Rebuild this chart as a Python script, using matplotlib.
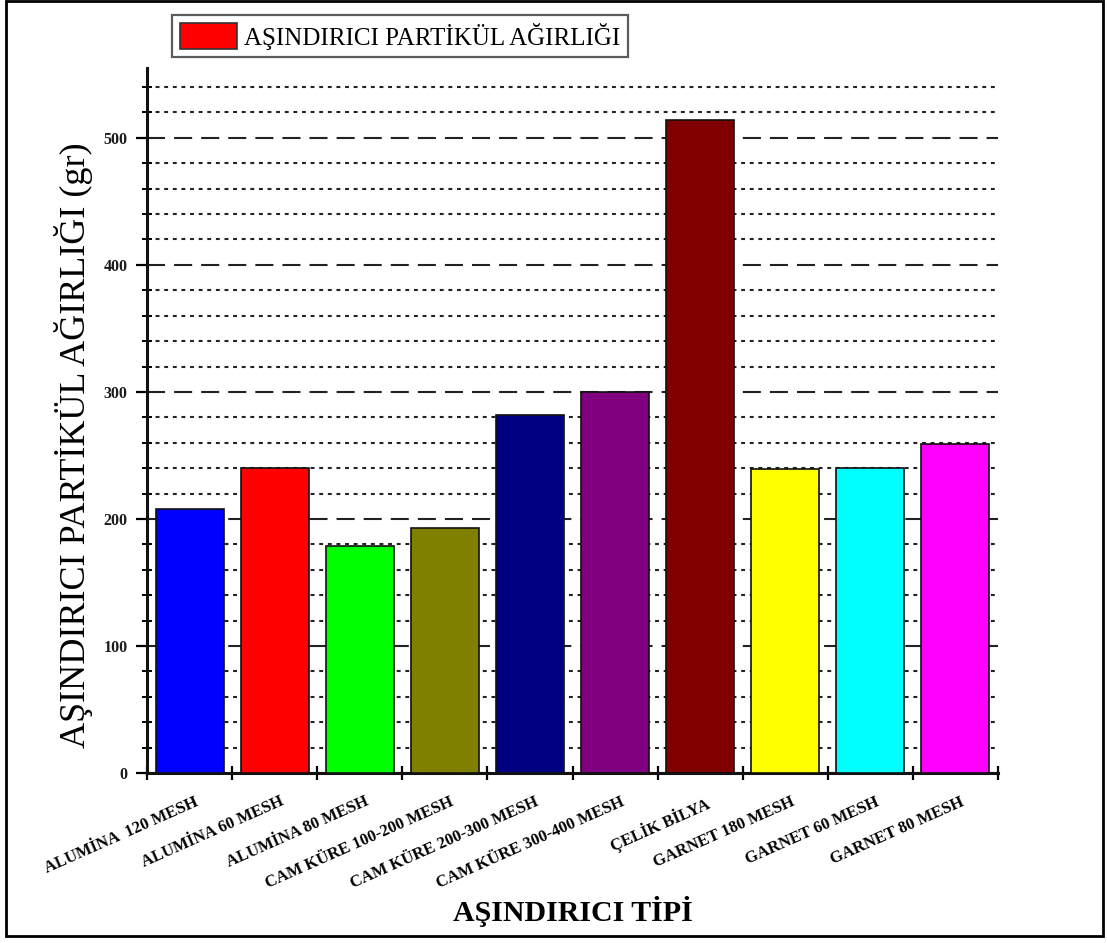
import matplotlib
matplotlib.use("Agg")
import matplotlib.pyplot as plt
import matplotlib.transforms as mtransforms
from matplotlib.patches import Patch, Rectangle
from matplotlib.ticker import MultipleLocator

# Abrasive types and measured particle weights (g)
categories = [
    "ALUMİNA  120 MESH", "ALUMİNA 60 MESH", "ALUMİNA 80 MESH",
    "CAM KÜRE 100-200 MESH", "CAM KÜRE 200-300 MESH", "CAM KÜRE 300-400 MESH",
    "ÇELİK BİLYA", "GARNET 180 MESH", "GARNET 60 MESH", "GARNET 80 MESH",
]
weights = [208, 240, 179, 193, 282, 300, 514, 239.5, 240, 259]
bar_colors = ["#0000FF", "#FF0000", "#00FF00", "#808000", "#000080",
              "#800080", "#800000", "#FFFF00", "#00FFFF", "#FF00FF"]
y_major_ticks = [0, 100, 200, 300, 400, 500]

legend_label = "AŞINDIRICI PARTİKÜL AĞIRLIĞI"
x_title = "AŞINDIRICI TİPİ"
y_title = "AŞINDIRICI PARTİKÜL AĞIRLIĞI (gr)"

plt.rcParams["font.family"] = ["Liberation Serif", "DejaVu Serif"]
plt.rcParams["lines.scale_dashes"] = False

fig = plt.figure(figsize=(11.07, 9.43), dpi=100)
ax = fig.add_axes([147 / 1107, 1 - 773 / 943, (998 - 147) / 1107, (773 - 68) / 943])

x = list(range(len(categories)))
ax.bar(x, weights, width=0.8, color=bar_colors, edgecolor="#111111",
       linewidth=1.2, zorder=3)

ax.set_xlim(-0.5, len(categories) - 0.5)
ax.set_ylim(0, 555)

# y axis: labelled majors every 100, minor ticks every 20
ax.set_yticks(y_major_ticks)
ax.yaxis.set_minor_locator(MultipleLocator(20))
ax.tick_params(axis="y", which="major", direction="out", length=8, width=1.6,
               labelsize=11.5, pad=6, labelcolor="#1a1a1a")
ax.tick_params(axis="y", which="minor", direction="inout", length=7, width=1.4)
for lbl in ax.get_yticklabels():
    lbl.set_fontweight("bold")

# x axis: ticks at category boundaries, labels at category centres
ax.set_xticks([i - 0.5 for i in range(len(categories) + 1)])
ax.set_xticklabels([])
ax.set_xticks(x, minor=True)
ax.set_xticklabels(categories, minor=True, rotation=24, ha="right", va="top",
                   rotation_mode="anchor", fontsize=12, fontweight="bold")
ax.tick_params(axis="x", which="major", direction="inout", length=10, width=1.6)
ax.tick_params(axis="x", which="minor", length=0, pad=15)
shift = mtransforms.ScaledTranslation(5 / 100, 0, fig.dpi_scale_trans)
for lbl in ax.get_xticklabels(minor=True):
    lbl.set_transform(lbl.get_transform() + shift)

# grid: long dashes at majors, short dots at minors
ax.set_axisbelow(True)
ax.grid(axis="y", which="major", color="#222222", linewidth=1.5,
        linestyle=(0, (13, 6.5)))
ax.grid(axis="y", which="minor", color="#222222", linewidth=1.5,
        linestyle=(0, (2.8, 3.4)))

for side in ("top", "right"):
    ax.spines[side].set_visible(False)
for side in ("left", "bottom"):
    ax.spines[side].set_linewidth(2.2)
    ax.spines[side].set_color("#111111")

ax.set_xlabel(x_title, fontsize=21.5, fontweight="bold")
ax.xaxis.set_label_coords(0.5, -0.175)
ax.set_ylabel(y_title, fontsize=26)
ax.yaxis.set_label_coords(-0.063, 0.465)

handle = Patch(facecolor="#FF0000", edgecolor="#333333", linewidth=1.2)
fig.legend([handle], [legend_label], loc="upper left",
           bbox_to_anchor=(172 / 1107, 1 - 15 / 943), fontsize=18,
           frameon=True, fancybox=False, edgecolor="#333333",
           handlelength=2.3, handleheight=1.2, handletextpad=0.3,
           borderpad=0.3, borderaxespad=0)
fig.legends[0].get_frame().set_linewidth(1.6)

# page border
fig.patches.append(Rectangle((6 / 1107, 1 - 936 / 943), 1097 / 1107, 935 / 943,
                             transform=fig.transFigure, fill=False,
                             edgecolor="black", linewidth=2))

fig.savefig("out.png", dpi=100, facecolor="white")
